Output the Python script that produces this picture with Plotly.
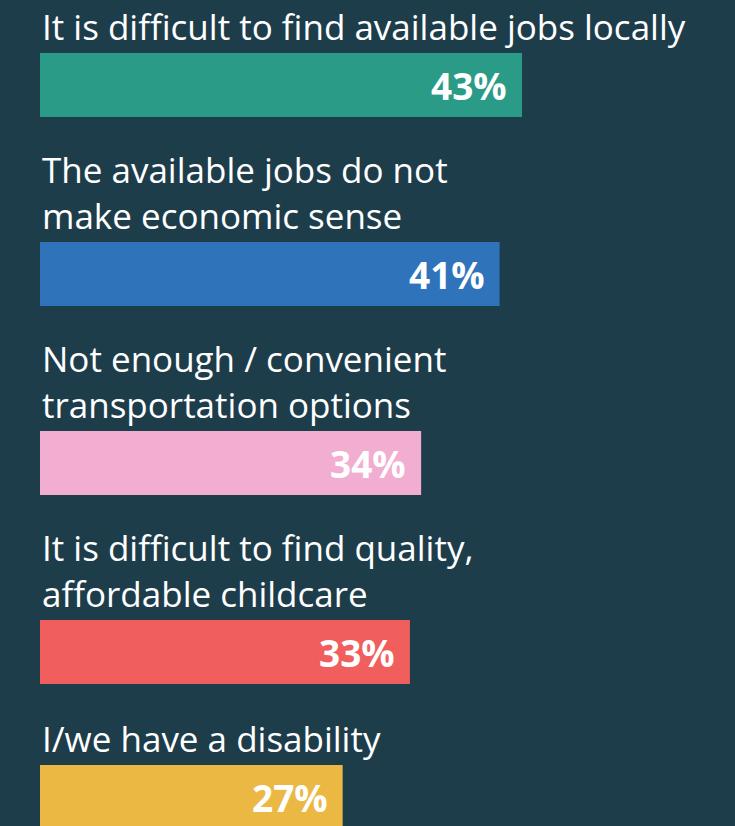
import plotly.graph_objects as go

categories = [
    "It is difficult to find available jobs locally",
    "The available jobs do not<br>make economic sense",
    "Not enough / convenient<br>transportation options",
    "It is difficult to find quality,<br>affordable childcare",
    "I/we have a disability",
]
values = [43, 41, 34, 33, 27]
colors = ["#2a9b87", "#2f73bb", "#f1aed0", "#f05e5d", "#ebb843"]

BG = "#1e3d4b"
BAR_H = 64

# layout positions derived from number of label lines
positions = []
y = 0
for i, c in enumerate(categories):
    lines = c.count("<br>") + 1
    if i == 0:
        y = 41 + 44 * lines
    else:
        y = y + 101 + 44 * lines
    positions.append(y)

fig = go.Figure()
fig.add_trace(go.Bar(
    x=values, y=positions, orientation="h",
    width=BAR_H, marker=dict(color=colors, line=dict(width=0)),
    hoverinfo="skip",
))

annotations = []
for c, v, p in zip(categories, values, positions):
    annotations.append(dict(
        x=0, y=p - BAR_H / 2, xref="x", yref="y",
        text=c, showarrow=False, xanchor="left", yanchor="bottom",
        yshift=1, align="left",
        font=dict(family="Open Sans", size=35, color="white"),
    ))
    annotations.append(dict(
        x=v, y=p, xref="x", yref="y",
        text=f"<b>{v}%</b>", showarrow=False, xanchor="right", yanchor="middle",
        xshift=-13,
        font=dict(family="Open Sans", size=37, color="white"),
    ))

fig.update_layout(
    width=735, height=826,
    margin=dict(l=40, r=0, t=0, b=0),
    paper_bgcolor=BG, plot_bgcolor=BG,
    showlegend=False,
    xaxis=dict(range=[0, 62], visible=False, fixedrange=True),
    yaxis=dict(range=[826, 0], visible=False, fixedrange=True),
    annotations=annotations,
)

fig.write_html(
    "out.html",
    config={"displayModeBar": False},
    post_script="document.body.style.margin='0';document.body.style.background='#1e3d4b';",
)
